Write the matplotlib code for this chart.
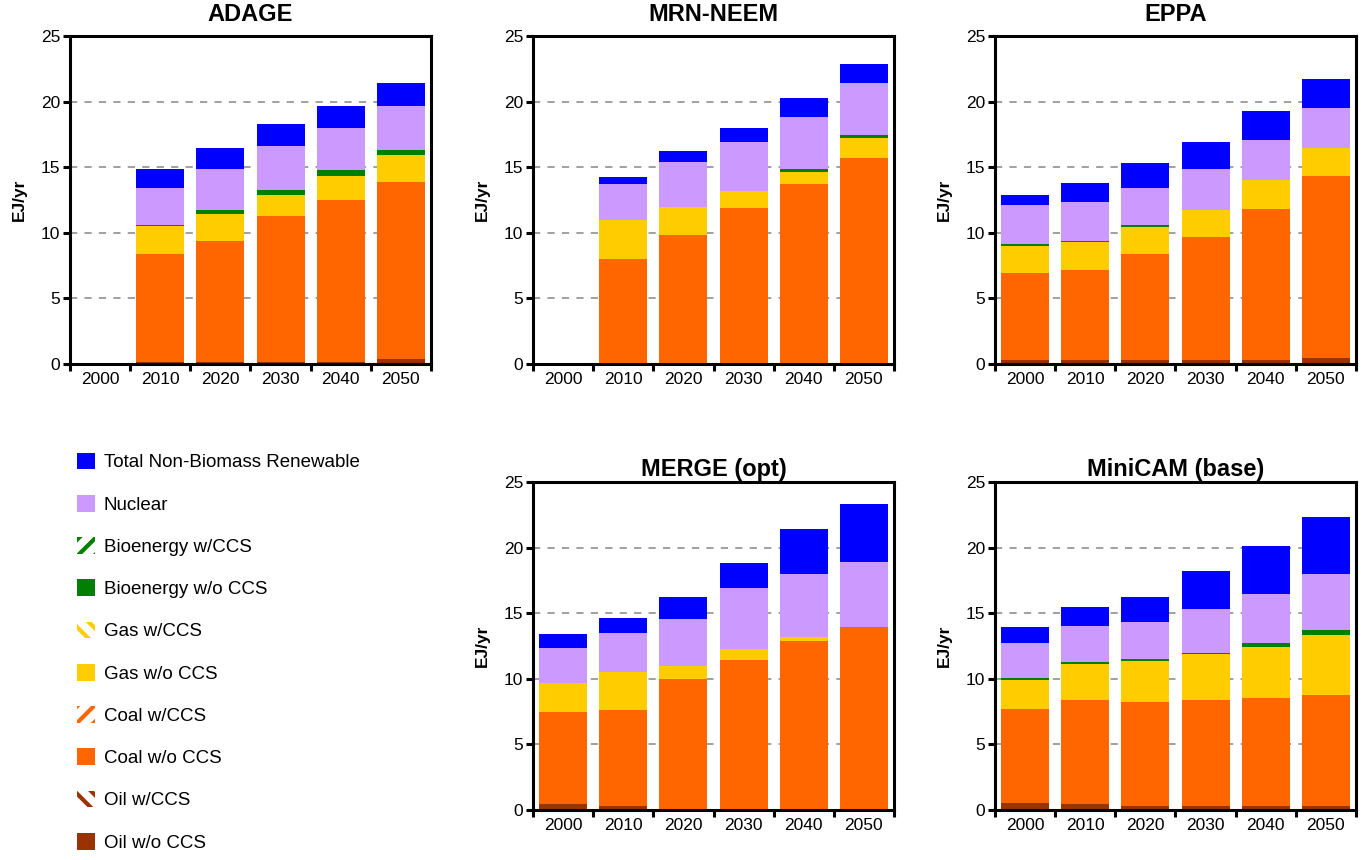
import matplotlib
matplotlib.use("Agg")
import matplotlib.pyplot as plt
from matplotlib.patches import Patch
import numpy as np

plt.rcParams['font.family'] = ['Liberation Sans', 'DejaVu Sans']
plt.rcParams['hatch.linewidth'] = 3.0

years = ["2000", "2010", "2020", "2030", "2040", "2050"]

series_names = ["Oil w/o CCS", "Oil w/CCS", "Coal w/o CCS", "Coal w/CCS",
                "Gas w/o CCS", "Gas w/CCS", "Bioenergy w/o CCS", "Bioenergy w/CCS",
                "Nuclear", "Total Non-Biomass Renewable"]
colors = {
    "Oil w/o CCS": "#993300", "Oil w/CCS": "#993300",
    "Coal w/o CCS": "#FF6600", "Coal w/CCS": "#FF6600",
    "Gas w/o CCS": "#FFCC00", "Gas w/CCS": "#FFCC00",
    "Bioenergy w/o CCS": "#007F00", "Bioenergy w/CCS": "#007F00",
    "Nuclear": "#CC99FF", "Total Non-Biomass Renewable": "#0000FF",
}
hatches = {"Oil w/CCS": "\\\\", "Coal w/CCS": "//", "Gas w/CCS": "\\\\", "Bioenergy w/CCS": "//"}

zeros = [0, 0, 0, 0, 0, 0]

# ADAGE
adage_oil = [0, 0.15, 0.15, 0.15, 0.15, 0.4]
adage_coal = [0, 8.25, 9.25, 11.1, 12.35, 13.45]
adage_gas = [0, 2.1, 2.0, 1.65, 1.85, 2.05]
adage_bio = [0, 0.12, 0.35, 0.4, 0.4, 0.4]
adage_nuclear = [0, 2.83, 3.1, 3.3, 3.25, 3.4]
adage_renew = [0, 1.45, 1.6, 1.7, 1.7, 1.7]

# MRN-NEEM
mrn_oil = [0, 0, 0, 0, 0, 0]
mrn_coal = [0, 8.0, 9.8, 11.9, 13.7, 15.7]
mrn_gas = [0, 2.95, 2.2, 1.3, 0.9, 1.5]
mrn_bio = [0, 0, 0, 0, 0.25, 0.25]
mrn_nuclear = [0, 2.75, 3.4, 3.75, 4.0, 4.0]
mrn_renew = [0, 0.55, 0.8, 1.05, 1.45, 1.45]

# EPPA
eppa_oil = [0.3, 0.3, 0.3, 0.3, 0.3, 0.45]
eppa_coal = [6.65, 6.9, 8.05, 9.35, 11.55, 13.85]
eppa_gas = [2.05, 2.1, 2.1, 2.05, 2.2, 2.2]
eppa_bio = [0.15, 0.1, 0.15, 0, 0, 0]
eppa_nuclear = [2.95, 2.95, 2.8, 3.15, 3.0, 3.0]
eppa_renew = [0.8, 1.45, 1.95, 2.05, 2.2, 2.2]

# MERGE (opt)
merge_oil = [0.45, 0.3, 0, 0, 0, 0]
merge_coal = [7.0, 7.3, 10.0, 11.45, 12.9, 13.95]
merge_gas = [2.25, 2.95, 0.95, 0.8, 0.25, 0]
merge_bio = [0, 0, 0, 0, 0, 0]
merge_nuclear = [2.65, 2.95, 3.6, 4.65, 4.8, 4.95]
merge_renew = [1.05, 1.1, 1.7, 1.95, 3.5, 4.4]

# MiniCAM (base)
minicam_oil = [0.55, 0.45, 0.3, 0.3, 0.3, 0.3]
minicam_coal = [7.15, 7.9, 7.95, 8.05, 8.25, 8.5]
minicam_gas = [2.2, 2.75, 3.1, 3.55, 3.9, 4.55]
minicam_bio = [0.15, 0.15, 0.15, 0.1, 0.25, 0.35]
minicam_nuclear = [2.7, 2.8, 2.8, 3.35, 3.75, 4.3]
minicam_renew = [1.2, 1.45, 1.95, 2.85, 3.65, 4.3]


def model_series(oil, coal, gas, bio, nuc, ren):
    return {"Oil w/o CCS": oil, "Oil w/CCS": zeros, "Coal w/o CCS": coal, "Coal w/CCS": zeros,
            "Gas w/o CCS": gas, "Gas w/CCS": zeros, "Bioenergy w/o CCS": bio,
            "Bioenergy w/CCS": zeros, "Nuclear": nuc, "Total Non-Biomass Renewable": ren}


models = [
    ("ADAGE", model_series(adage_oil, adage_coal, adage_gas, adage_bio, adage_nuclear, adage_renew), (70, 36), 10.5),
    ("MRN-NEEM", model_series(mrn_oil, mrn_coal, mrn_gas, mrn_bio, mrn_nuclear, mrn_renew), (533, 36), 10.5),
    ("EPPA", model_series(eppa_oil, eppa_coal, eppa_gas, eppa_bio, eppa_nuclear, eppa_renew), (995, 36), 10.5),
    ("MERGE (opt)", model_series(merge_oil, merge_coal, merge_gas, merge_bio, merge_nuclear, merge_renew), (533, 482), 4),
    ("MiniCAM (base)", model_series(minicam_oil, minicam_coal, minicam_gas, minicam_bio, minicam_nuclear, minicam_renew), (995, 482), 4),
]

W, H = 1367, 860
fig = plt.figure(figsize=(W / 100, H / 100), dpi=100)

ax_w, ax_h = 361, 328
x = np.arange(len(years))

for title, data, (lx, ty), tpad in models:
    ax = fig.add_axes([lx / W, 1 - (ty + ax_h) / H, ax_w / W, ax_h / H])
    bottom = np.zeros(len(years))
    for name in series_names:
        vals = np.array(data[name], dtype=float)
        ax.bar(x, vals, width=0.8, bottom=bottom, color=colors[name],
               edgecolor='none', zorder=2)
        bottom += vals
    ax.set_xlim(-0.5, len(years) - 0.5)
    ax.set_ylim(0, 25)
    ax.set_yticks([0, 5, 10, 15, 20, 25])
    ax.set_xticks(x)
    ax.set_xticklabels(years)
    ax.set_xticks(np.arange(-0.5, len(years)), minor=True)
    ax.tick_params(axis='x', which='major', length=0, labelsize=12.5, pad=6)
    ax.tick_params(axis='x', which='minor', length=5, width=2.2, direction='out')
    ax.tick_params(axis='y', length=5, width=2.2, labelsize=12.5, pad=2)
    for sp in ax.spines.values():
        sp.set_linewidth(2.2)
    for yv in [5, 10, 15, 20]:
        ax.axhline(yv, color='#999999', linestyle=(0, (4, 4)), linewidth=1.3, zorder=1)
    ax.set_title(title, fontsize=17, fontweight='bold', pad=tpad)
    ax.set_ylabel("EJ/yr", fontsize=12.5, fontweight='bold', labelpad=10)

legend_order = ["Total Non-Biomass Renewable", "Nuclear", "Bioenergy w/CCS", "Bioenergy w/o CCS",
                "Gas w/CCS", "Gas w/o CCS", "Coal w/CCS", "Coal w/o CCS", "Oil w/CCS", "Oil w/o CCS"]
handles = []
for name in legend_order:
    if name in hatches:
        handles.append(Patch(facecolor='white', edgecolor=colors[name], hatch=hatches[name],
                             linewidth=0, label=name))
    else:
        handles.append(Patch(facecolor=colors[name], edgecolor='none', label=name))

fig.legend(handles=handles, loc='upper left', bbox_to_anchor=(69 / W, 1 - 445 / H),
           frameon=False, fontsize=13.5, handlelength=1.0, handleheight=1.0,
           labelspacing=1.25, handletextpad=0.45, borderaxespad=0)

fig.savefig("out.png", dpi=100)
